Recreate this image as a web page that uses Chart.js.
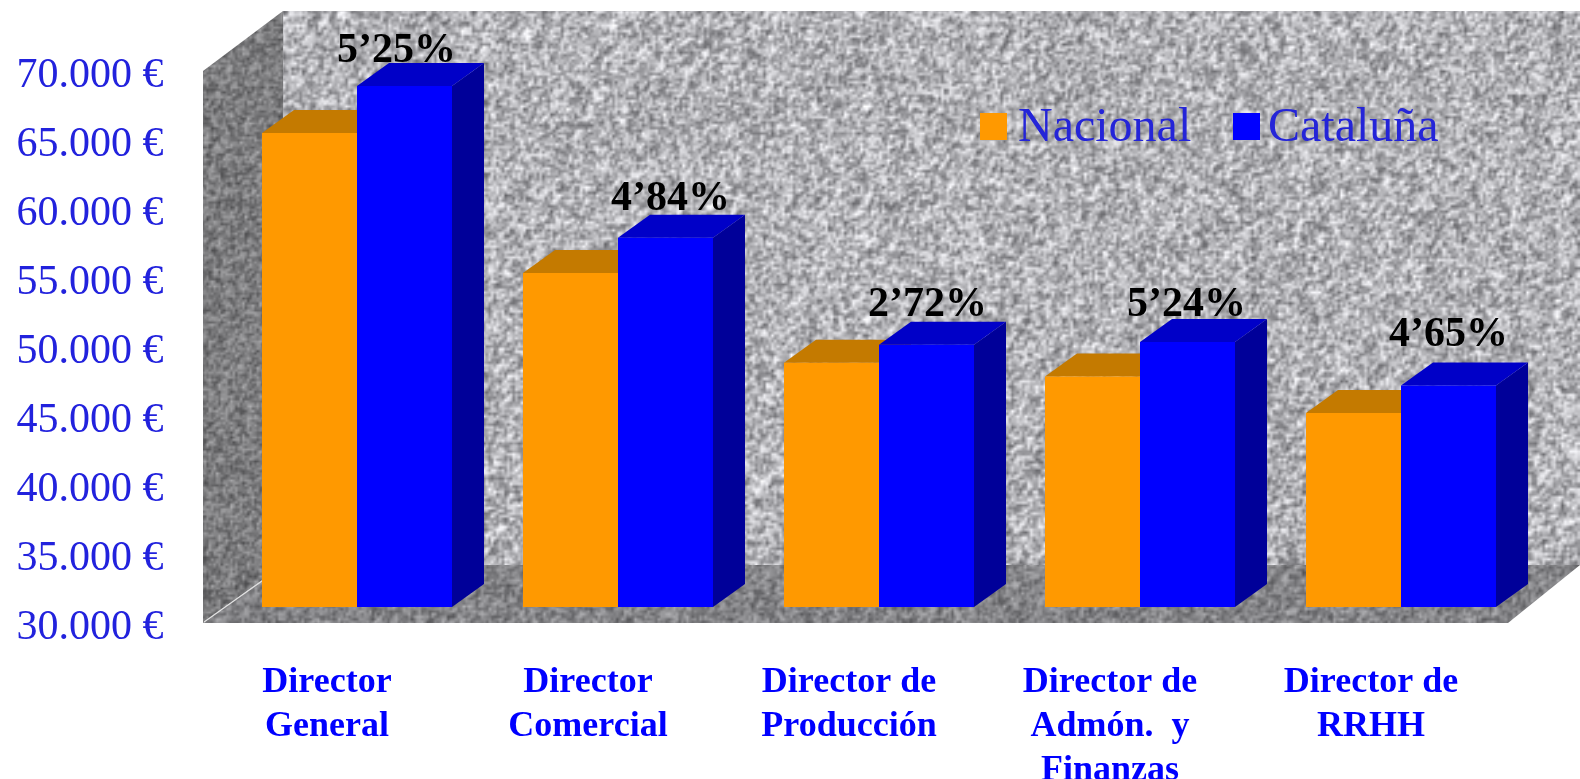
<!DOCTYPE html>
<html><head><meta charset="utf-8">
<style>html,body{margin:0;padding:0;background:#fff}canvas{display:block;filter:blur(.55px)}</style>
<script src="https://cdn.jsdelivr.net/npm/chart.js@4"></script></head>
<body><canvas id="c" width="1580" height="779"></canvas>
<script>
const categories=[["Director","General"],["Director","Comercial"],["Director de","Producción"],["Director de","Admón.  y","Finanzas"],["Director de","RRHH"]];
const nacional=[64350,54200,47700,46700,44060];
const cataluna=[67750,56750,49000,49200,46050];
const diferencias=["5’25%","4’84%","2’72%","5’24%","4’65%"];
const seriesNames=["Nacional","Cataluña"];
const axisMin=30000, axisMax=70000, axisStep=5000;

const SERIF='"Liberation Serif","Times New Roman",serif';
const DX=32, DY=23;
const shades=[{top:'#c47a00',side:'#c47a00'},{top:'#0000c8',side:'#000099'}];
const labelShift=[[-8,-12],[5,-16],[1,-17],[-1,-14],[0,-27]];

function noiseTile(mean,range,cell,tint){
  const W=Math.ceil(1580/cell),H=Math.ceil(779/cell);
  const cv=document.createElement('canvas');cv.width=W;cv.height=H;
  const g=cv.getContext('2d'),im=g.createImageData(W,H);
  const h=(x,y)=>{const s=Math.sin(x*12.9898+y*78.233+mean)*43758.5453;return s-Math.floor(s);};
  for(let y=0;y<H;y++)for(let x=0;x<W;x++){
    const n=(h(x,y)+h(x+1,y)*.5+h(x,y+1)*.5)/2-.5;
    const v=mean+n*range;const i=(y*W+x)*4;
    im.data[i]=v;im.data[i+1]=v;im.data[i+2]=v+tint;im.data[i+3]=255;
  }
  g.putImageData(im,0,0);return cv;
}
let wallTile,sideTile,floorTile;
function fillPoly(ctx,pts,tile){
  ctx.save();ctx.beginPath();pts.forEach((p,i)=>i?ctx.lineTo(p[0],p[1]):ctx.moveTo(p[0],p[1]));ctx.closePath();ctx.clip();
  ctx.imageSmoothingEnabled=true;ctx.drawImage(tile,0,0,1580,779);ctx.restore();
}
const stage={id:'stage',beforeDraw(chart){
  const c=chart.ctx;
  wallTile=wallTile||noiseTile(178,165,2.7,4);
  sideTile=sideTile||noiseTile(124,105,2.4,2);
  floorTile=floorTile||noiseTile(132,105,2.6,3);
  fillPoly(c,[[283,11],[1580,11],[1580,565],[283,565]],wallTile);
  fillPoly(c,[[203,71],[283,11],[283,565],[203,623]],sideTile);
  fillPoly(c,[[203,623],[283,565],[1580,565],[1508,623]],floorTile);
  c.save();c.strokeStyle='rgba(235,235,235,.9)';c.lineWidth=1.2;c.beginPath();c.moveTo(204,622);c.lineTo(262,581);c.stroke();c.restore();
},
beforeDatasetsDraw(chart){
  const c=chart.ctx,base=chart.scales.y.bottom;
  [0,1].forEach(d=>{
    chart.getDatasetMeta(d).data.forEach(b=>{
      const l=b.x-b.width/2,r=b.x+b.width/2,t=b.y;
      c.fillStyle=shades[d].side;c.beginPath();c.moveTo(r,t);c.lineTo(r+DX,t-DY);c.lineTo(r+DX,base-DY);c.lineTo(r,base);c.closePath();c.fill();
      c.fillStyle=shades[d].top;c.beginPath();c.moveTo(l,t);c.lineTo(l+DX,t-DY);c.lineTo(r+DX,t-DY);c.lineTo(r,t);c.closePath();c.fill();
    });
  });
},
afterDatasetsDraw(chart){
  const c=chart.ctx;
  c.save();c.font='bold 42px '+SERIF;c.fillStyle='#000';c.textAlign='center';c.textBaseline='middle';
  chart.getDatasetMeta(1).data.forEach((b,i)=>{
    c.fillText(diferencias[i],b.x+labelShift[i][0],b.y-DY+labelShift[i][1]);
  });
  c.restore();
  c.save();c.font='48px '+SERIF;c.textBaseline='middle';c.textAlign='left';
  const swatchX=[980,1233],textX=[1018,1268];
  chart.data.datasets.forEach((ds,i)=>{
    c.fillStyle=ds.backgroundColor;c.fillRect(swatchX[i],113,27,27);
    c.fillStyle='#2424d8';c.fillText(ds.label,textX[i],128);
  });
  c.restore();
}};

new Chart(document.getElementById('c'),{
  type:'bar',
  data:{labels:categories,datasets:[
    {label:seriesNames[0],data:nacional,backgroundColor:'#ff9900',categoryPercentage:.728,barPercentage:1},
    {label:seriesNames[1],data:cataluna,backgroundColor:'#0000ff',categoryPercentage:.728,barPercentage:1}
  ]},
  plugins:[stage],
  options:{
    responsive:false,animation:false,
    layout:{autoPadding:false,padding:{top:55,right:48.5,left:0,bottom:0}},
    plugins:{legend:{display:false},tooltip:{enabled:false},title:{display:false}},
    scales:{
      x:{grid:{display:false,drawTicks:false},border:{display:false},
        afterFit(s){s.height=172;s.paddingLeft=0;s.paddingRight=0;},
        ticks:{autoSkip:false,maxRotation:0,minRotation:0,padding:54,labelOffset:-30,color:'#0000ff',font:{family:SERIF,size:36,weight:'bold',lineHeight:1.22}}},
      y:{min:axisMin,max:axisMax,grid:{display:false,drawTicks:false},border:{display:false},
        afterFit(s){s.width=226.5;s.paddingTop=0;s.paddingBottom=0;},
        ticks:{stepSize:axisStep,padding:63,labelOffset:21,color:'#2222dd',font:{family:SERIF,size:42},
          callback:v=>String(v).replace(/(\d)(\d{3})$/,'$1.$2')+' €'}}
    }
  }
});
</script></body></html>
